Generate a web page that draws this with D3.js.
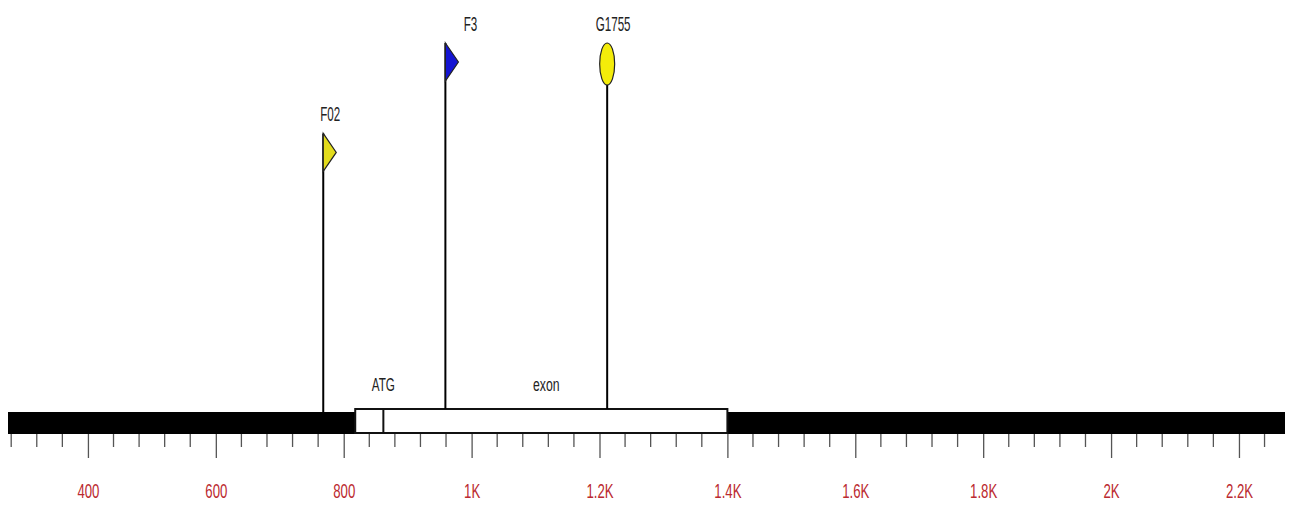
<!DOCTYPE html>
<html>
<head>
<meta charset="utf-8">
<script src="https://cdn.jsdelivr.net/npm/d3@7"></script>
<style>
  html, body { margin: 0; padding: 0; background: #fff; }
  svg text { font-family: "Liberation Sans Narrow", "Liberation Sans", Arial, sans-serif; }
</style>
</head>
<body>
<div id="chart"></div>
<script>
// sequence range (bp)
var seqRange = [275, 2272];
// exon and start codon
var exonRange = [818, 1400];
var atgPos = 862;
// tick marks
var majorTicks = [400, 600, 800, 1000, 1200, 1400, 1600, 1800, 2000, 2200];
var majorLabels = ["400", "600", "800", "1K", "1.2K", "1.4K", "1.6K", "1.8K", "2K", "2.2K"];
var minorStep = 40;
// markers
var markerNames = ["F02", "F3", "G1755"];
var markerPos = [768, 959, 1212];
var markerLevel = [0.755, 1, 1];   // relative stem height
var markerShape = ["flag", "flag", "oval"];

var w = 1289, h = 505;
var barTop = 412, barBottom = 434;

var svg = d3.select("#chart").append("svg")
  .attr("width", w)
  .attr("height", h);

var x = d3.scaleLinear().domain(seqRange).range([8, 1285]);
var y = d3.scaleLinear().domain([0, 1]).range([barTop, 43]);

var colors = { F02: "#e3dc1c", F3: "#1414d2", G1755: "#f4ec0a" };
var labelShift = { F02: 7, F3: 25, G1755: 6 };

// minor ticks
var minor = d3.range(280, seqRange[1], minorStep).filter(function(d) {
  return majorTicks.indexOf(d) === -1;
});
svg.append("g").selectAll("line")
  .data(minor).enter().append("line")
  .attr("x1", function(d) { return x(d); })
  .attr("x2", function(d) { return x(d); })
  .attr("y1", barBottom)
  .attr("y2", barBottom + 13)
  .attr("stroke", "#555").attr("stroke-width", 1.3);

// major ticks + labels through an axis
var axis = d3.axisBottom(x)
  .tickValues(majorTicks)
  .tickSize(24)
  .tickPadding(0)
  .tickFormat(function(d, i) { return majorLabels[i]; });
var ax = svg.append("g")
  .attr("transform", "translate(0," + barBottom + ")")
  .call(axis);
ax.select(".domain").remove();
ax.selectAll(".tick line").attr("stroke", "#555").attr("stroke-width", 1.3);
ax.selectAll(".tick text")
  .attr("y", 0).attr("dy", 0)
  .attr("fill", "#bb2a30")
  .attr("font-size", 20)
  .attr("font-family", "Liberation Sans Narrow, Liberation Sans, sans-serif")
  .attr("transform", "translate(0,64) scale(0.66,1)");

// black sequence bar
svg.append("rect")
  .attr("x", x(seqRange[0]))
  .attr("y", barTop)
  .attr("width", x(seqRange[1]) - x(seqRange[0]))
  .attr("height", barBottom - barTop)
  .attr("fill", "#000");

// exon box
svg.append("rect")
  .attr("x", x(exonRange[0]))
  .attr("y", barTop - 3)
  .attr("width", x(exonRange[1]) - x(exonRange[0]))
  .attr("height", barBottom - barTop + 2)
  .attr("fill", "#fff")
  .attr("stroke", "#111")
  .attr("stroke-width", 2);

svg.append("line")
  .attr("x1", x(atgPos)).attr("x2", x(atgPos))
  .attr("y1", barTop - 3).attr("y2", barBottom - 1)
  .attr("stroke", "#111").attr("stroke-width", 2);

function narrowText(g, txt, cx, cy, size, sx) {
  g.append("text")
    .attr("transform", "translate(" + cx + "," + cy + ") scale(" + sx + ",1)")
    .attr("text-anchor", "middle")
    .attr("font-size", size)
    .attr("fill", "#222")
    .text(txt);
}

narrowText(svg, "ATG", x(atgPos), 391, 18, 0.65);
narrowText(svg, "exon", (x(exonRange[0]) + x(exonRange[1])) / 2 + 5, 391, 18, 0.68);

// markers
markerNames.forEach(function(name, i) {
  var mx = x(markerPos[i]);
  var top = y(markerLevel[i]);
  var g = svg.append("g");
  g.append("line")
    .attr("x1", mx).attr("x2", mx)
    .attr("y1", top).attr("y2", name === "F02" ? barTop : barTop - 3)
    .attr("stroke", "#000").attr("stroke-width", 2);
  if (markerShape[i] === "flag") {
    var fh = 38, fw = 13;
    g.append("path")
      .attr("d", "M" + mx + "," + top + " L" + (mx + fw) + "," + (top + fh / 2) +
        " L" + mx + "," + (top + fh) + " Z")
      .attr("fill", colors[name])
      .attr("stroke", "#222").attr("stroke-width", 1.2);
  } else {
    g.append("ellipse")
      .attr("cx", mx).attr("cy", top + 21)
      .attr("rx", 7.5).attr("ry", 21)
      .attr("fill", colors[name])
      .attr("stroke", "#222").attr("stroke-width", 1.2);
  }
  narrowText(g, name, mx + labelShift[name], top - 12, 20, 0.58);
});
</script>
</body>
</html>
